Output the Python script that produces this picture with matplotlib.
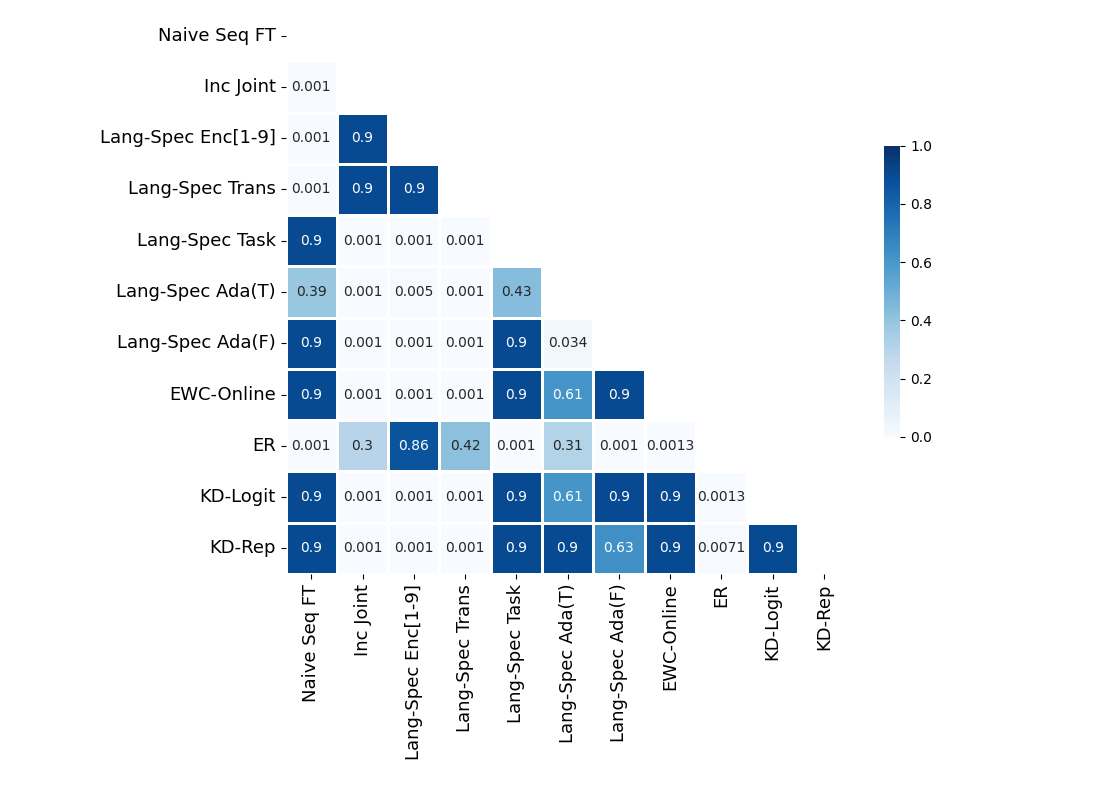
import numpy as np
import matplotlib
matplotlib.use('Agg')
import matplotlib.pyplot as plt
import seaborn as sns

methods = ['Naive Seq FT', 'Inc Joint', 'Lang-Spec Enc[1-9]', 'Lang-Spec Trans',
           'Lang-Spec Task', 'Lang-Spec Ada(T)', 'Lang-Spec Ada(F)', 'EWC-Online',
           'ER', 'KD-Logit', 'KD-Rep']

# lower triangle p-values, row i vs columns 0..i-1
rows = [
    [],
    [0.001],
    [0.001, 0.9],
    [0.001, 0.9, 0.9],
    [0.9, 0.001, 0.001, 0.001],
    [0.39, 0.001, 0.005, 0.001, 0.43],
    [0.9, 0.001, 0.001, 0.001, 0.9, 0.034],
    [0.9, 0.001, 0.001, 0.001, 0.9, 0.61, 0.9],
    [0.001, 0.3, 0.86, 0.42, 0.001, 0.31, 0.001, 0.0013],
    [0.9, 0.001, 0.001, 0.001, 0.9, 0.61, 0.9, 0.9, 0.0013],
    [0.9, 0.001, 0.001, 0.001, 0.9, 0.9, 0.63, 0.9, 0.0071, 0.9],
]

n = len(methods)
pvals = np.ones((n, n))
for i, r in enumerate(rows):
    for j, v in enumerate(r):
        pvals[i, j] = v
        pvals[j, i] = v

mask = np.triu(np.ones_like(pvals, dtype=bool))

fig = plt.figure(figsize=(11, 8), dpi=100)
ax = fig.add_axes([0.2595, 0.2825, 0.513, 0.705])
cax = fig.add_axes([0.804, 0.454, 0.0145, 0.364])

sns.heatmap(pvals, mask=mask, cmap='Blues', vmin=0, vmax=1, annot=True, fmt='.2g',
            linewidths=2, linecolor='white', square=True, ax=ax, cbar_ax=cax,
            xticklabels=methods, yticklabels=methods, annot_kws={'fontsize': 10})
ax.tick_params(axis='both', labelsize=13)
plt.setp(ax.get_xticklabels(), rotation=90)
plt.setp(ax.get_yticklabels(), rotation=0)

fig.savefig('out.png', dpi=100)
